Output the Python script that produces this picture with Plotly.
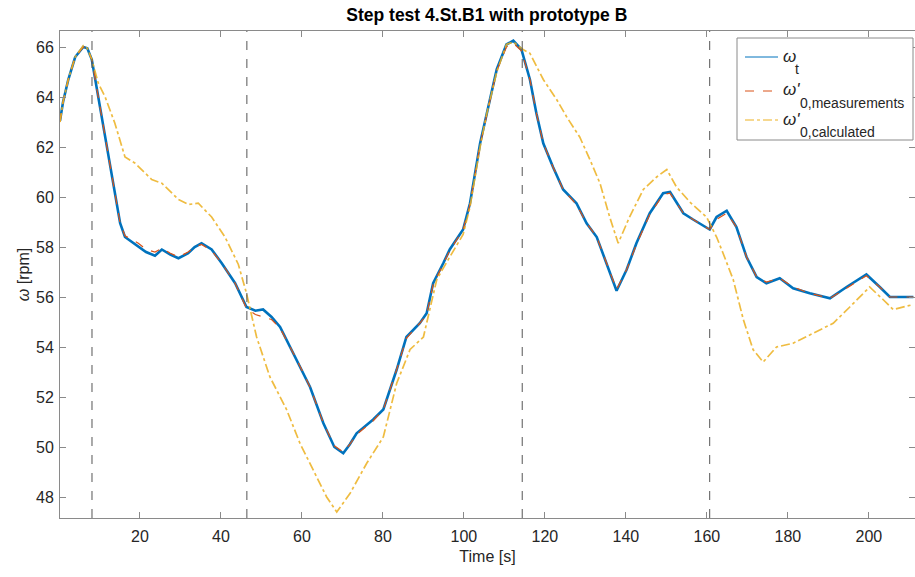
import plotly.graph_objects as go

# ---- data ----
time_s = [0.25, 1.0, 2.3, 4.0, 6.0, 7.0, 8.1, 9.7, 11.8, 13.8, 15.1, 16.3, 19.6, 21.5, 23.7,
          25.4, 27.5, 29.5, 31.9, 33.5, 35.2, 37.7, 40.2, 43.5, 46.3, 48.5, 50.4, 52.5, 54.6,
          58.7, 62.0, 65.3, 68.0, 70.2, 71.8, 73.5, 77.6, 80.1, 83.4, 85.8, 89.1, 90.8, 92.4,
          94.9, 96.5, 99.8, 101.5, 104.0, 105.6, 108.1, 110.5, 112.2, 114.2, 116.3, 117.9,
          119.6, 122.0, 124.5, 127.8, 130.3, 132.8, 135.2, 137.7, 140.2, 142.6, 145.9, 149.2,
          150.9, 154.2, 156.6, 160.7, 162.4, 164.9, 167.3, 169.8, 172.3, 174.7, 178.0, 181.3,
          185.4, 190.4, 194.5, 199.4, 202.7, 205.2, 211.0]

omega_t = [63.05, 63.8, 64.7, 65.6, 66.0, 65.95, 65.5, 64.0, 62.0, 60.0, 58.95, 58.4, 58.0, 57.8, 57.65,
           57.9, 57.7, 57.55, 57.75, 58.0, 58.15, 57.9, 57.35, 56.55, 55.6, 55.45, 55.5, 55.2, 54.8,
           53.5, 52.4, 50.95, 50.0, 49.75, 50.1, 50.55, 51.1, 51.5, 53.1, 54.4, 54.95, 55.35, 56.55,
           57.35, 57.9, 58.7, 59.75, 62.15, 63.35, 65.1, 66.1, 66.25, 65.9, 64.7, 63.35,
           62.15, 61.2, 60.3, 59.75, 58.95, 58.4, 57.35, 56.25, 57.1, 58.15, 59.35, 60.15,
           60.2, 59.35, 59.1, 58.7, 59.2, 59.45, 58.8, 57.6, 56.8, 56.55, 56.75, 56.35,
           56.15, 55.95, 56.4, 56.9, 56.4, 56.0, 56.0]

omega0_meas = [63.0, 63.8, 64.7, 65.6, 66.0, 65.95, 65.5, 64.0, 62.0, 60.0, 58.95, 58.45, 58.15, 57.9, 57.8,
               57.95, 57.75, 57.6, 57.8, 58.0, 58.1, 57.85, 57.35, 56.55, 55.55, 55.3, 55.2, 55.1, 54.75,
               53.5, 52.4, 50.95, 50.05, 49.8, 50.1, 50.5, 51.05, 51.5, 53.1, 54.35, 54.95, 55.3, 56.5,
               57.3, 57.85, 58.7, 59.7, 62.1, 63.3, 65.05, 66.0, 66.15, 65.85, 64.7, 63.35,
               62.15, 61.2, 60.3, 59.7, 58.95, 58.4, 57.35, 56.3, 57.1, 58.1, 59.3, 60.1,
               60.15, 59.35, 59.1, 58.7, 59.1, 59.35, 58.8, 57.6, 56.8, 56.6, 56.75, 56.4,
               56.15, 55.95, 56.35, 56.85, 56.4, 56.0, 56.0]

time_calc = [0.25, 1.0, 2.3, 4.0, 6.0, 7.0, 8.1, 9.7, 11.4, 13.8, 16.3, 18.8, 22.9, 25.4, 29.5,
             32.0, 34.4, 37.7, 41.0, 42.5, 44.3, 46.3, 48.8, 52.1, 56.2, 59.5, 62.8, 66.1, 68.6,
             71.9, 76.0, 80.1, 83.4, 86.7, 90.0, 93.3, 96.5, 99.8, 101.5, 104.0, 105.6, 108.1,
             110.5, 112.2, 114.6, 116.3, 119.6, 122.9, 125.4, 128.6, 131.1, 133.6, 136.0, 138.1,
             140.9, 144.3, 147.6, 150.1, 152.5, 155.8, 159.9, 162.4, 164.0, 166.5, 169.0, 171.4,
             173.9, 177.2, 181.3, 186.3, 191.2, 195.3, 200.2, 203.5, 206.0, 211.0]

omega0_calc = [63.0, 63.8, 64.7, 65.6, 66.05, 65.95, 65.5, 64.55, 64.0, 62.95, 61.6, 61.35, 60.7, 60.55, 59.9,
               59.7, 59.75, 59.2, 58.4, 57.9, 57.3, 56.15, 54.4, 52.8, 51.5, 50.15, 49.1, 48.0, 47.4,
               48.15, 49.35, 50.4, 52.55, 53.9, 54.4, 56.7, 57.6, 58.5, 59.6, 62.0, 63.3, 65.0,
               66.1, 66.2, 65.9, 65.75, 64.7, 63.9, 63.2, 62.4, 61.5, 60.55, 59.2, 58.15,
               59.2, 60.3, 60.8, 61.1, 60.4, 59.8, 59.2, 58.4, 57.75, 56.7, 55.1, 53.9,
               53.4, 54.0, 54.15, 54.55, 54.95, 55.6, 56.4, 55.9, 55.5, 55.7]

step_times = [8.15, 46.4, 114.4, 160.7]

x_ticks = [20, 40, 60, 80, 100, 120, 140, 160, 180, 200]
y_ticks = [48, 50, 52, 54, 56, 58, 60, 62, 64, 66]

legend_main = ["ω", "ω'", "ω'"]
legend_sub = ["t", "0,measurements", "0,calculated"]

FONT = "Liberation Sans, Arial, sans-serif"
AX = "#262626"
BOX = "#8a8a8a"
COLORS = ["#0072BD", "#D95319", "#EDB120"]
DASHES = ["solid", "dash", "dashdot"]

W, H = 915, 577
L, R, T, B = 60, 0, 31, 59
PW, PH = W - L - R, H - T - B


def px_x(p):
    return (p - L) / PW


def px_y(p):
    return 1 - (p - T) / PH


fig = go.Figure()

fig.add_trace(go.Scatter(
    x=time_s, y=omega_t, mode="lines", name="ω_t", showlegend=False,
    line=dict(color=COLORS[0], width=2.6)))
fig.add_trace(go.Scatter(
    x=time_s, y=omega0_meas, mode="lines", name="ω'_0,measurements", showlegend=False,
    line=dict(color=COLORS[1], width=1.2, dash="dash")))
fig.add_trace(go.Scatter(
    x=time_calc, y=omega0_calc, mode="lines", name="ω'_0,calculated", showlegend=False,
    line=dict(color=COLORS[2], width=1.7, dash="dashdot"), opacity=0.85))

for t in step_times:
    fig.add_vline(x=t, line=dict(color="#555555", width=1, dash="dash"))

# ---- legend box (drawn by hand, MATLAB style) ----
fig.add_shape(type="rect", xref="paper", yref="paper",
              x0=px_x(737), x1=px_x(913), y0=px_y(140), y1=px_y(38),
              line=dict(color=BOX, width=1), fillcolor="white", layer="above")
entry_y = [57, 91, 120]
for i, ey in enumerate(entry_y):
    fig.add_shape(type="line", xref="paper", yref="paper",
                  x0=px_x(745), x1=px_x(778), y0=px_y(ey), y1=px_y(ey),
                  line=dict(color=COLORS[i], width=1, dash=DASHES[i]), layer="above")
    fig.add_annotation(xref="paper", yref="paper", x=px_x(781), y=px_y(ey - 1),
                       xanchor="left", yanchor="middle", showarrow=False,
                       text="<i>%s</i>" % legend_main[i], font=dict(size=17, color=AX))
    sub_x = 793 if i == 0 else 798
    fig.add_annotation(xref="paper", yref="paper", x=px_x(sub_x), y=px_y(ey + 12),
                       xanchor="left", yanchor="middle", showarrow=False,
                       text=legend_sub[i], font=dict(size=14, color=AX))

fig.update_layout(
    width=W, height=H,
    margin=dict(l=L, r=R, t=T, b=B),
    paper_bgcolor="white", plot_bgcolor="white",
    font=dict(family=FONT, color=AX, size=16),
    title=dict(text="<b>Step test 4.St.B1 with prototype B</b>", x=0.532, xanchor="center",
               xref="container", yref="container", y=1 - 15 / H, yanchor="middle",
               font=dict(size=17.5, color="black")),
    showlegend=False,
)

fig.update_xaxes(
    range=[0.25, 211.4], tickvals=x_ticks, ticks="inside", ticklen=6, tickcolor=BOX,
    showline=True, linecolor=BOX, linewidth=1, mirror="ticks", showgrid=False, zeroline=False,
    automargin=False, ticklabelstandoff=4,
    title=dict(text="Time [s]", font=dict(size=16), standoff=6),
    tickfont=dict(size=16))
fig.update_yaxes(
    range=[47.16, 66.64], tickvals=y_ticks, ticks="inside", ticklen=6, tickcolor=BOX,
    showline=True, linecolor=BOX, linewidth=1, mirror="ticks", showgrid=False, zeroline=False,
    automargin=False, ticklabelstandoff=2,
    title=dict(text="<i>ω</i> [rpm]", font=dict(size=16), standoff=2),
    tickfont=dict(size=16))

fig.write_html(
    "out.html",
    config={"displayModeBar": False},
    post_script="document.body.style.margin='0';document.body.style.padding='0';"
                "document.body.style.overflow='hidden';",
)
